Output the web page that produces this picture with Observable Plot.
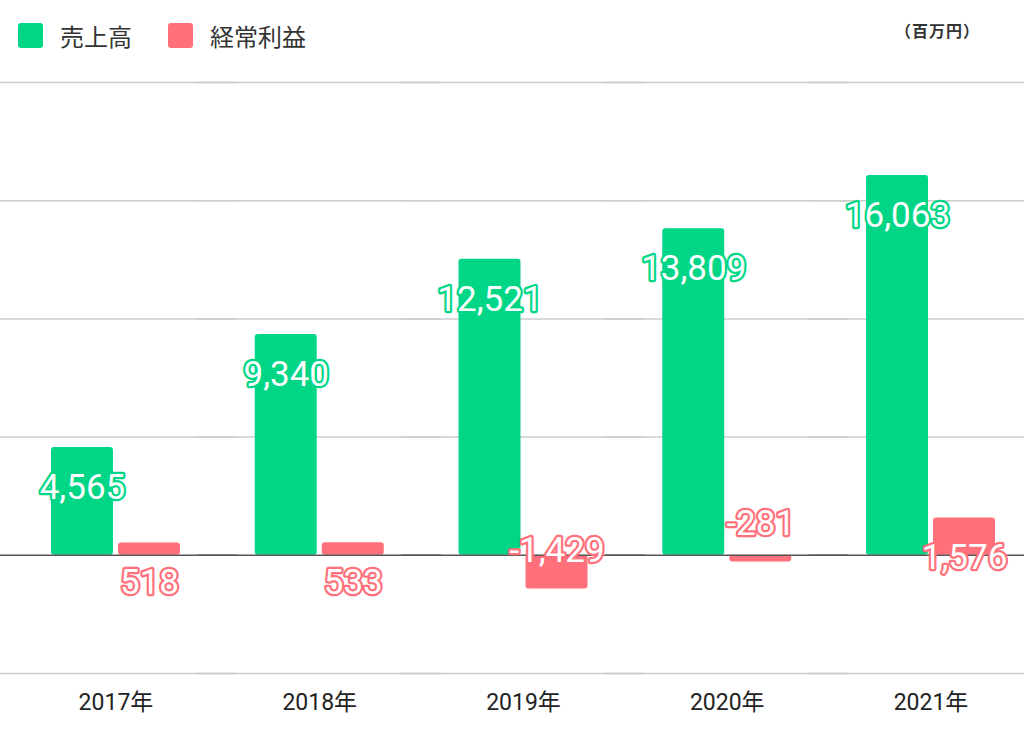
<!DOCTYPE html>
<html>
<head>
<meta charset="utf-8">
<script src="https://cdn.jsdelivr.net/npm/d3@7"></script>
<script src="https://cdn.jsdelivr.net/npm/@observablehq/plot@0.6"></script>
<style>
  html, body { margin: 0; padding: 0; background: #fff; }
  #wrap { position: relative; width: 1024px; height: 730px; overflow: hidden; }
  #legend { position: absolute; left: 18px; top: 23px; display: flex; align-items: center;
    font-family: "Noto Sans CJK JP", sans-serif; font-size: 24px; color: #333; }
  .sw { width: 25px; height: 25px; border-radius: 3px; display: inline-block; }
  .lab { margin-left: 17px; margin-right: 36px; line-height: 25px; }
  #unit { position: absolute; left: 895px; top: 18px; font-family: "Noto Sans CJK JP", sans-serif;
    font-size: 16px; font-weight: bold; color: #333; letter-spacing: 1px; }
  #chart { position: absolute; left: 0; top: 0; }
</style>
</head>
<body>
<div id="wrap">
  <div id="chart"></div>
  <div id="legend"></div>
  <div id="unit">（百万円）</div>
</div>
<script>
const years = ["2017", "2018", "2019", "2020", "2021"];
const seriesNames = ["売上高", "経常利益"];
const seriesColors = ["#00D686", "#FF707A"];
const sales = [4565, 9340, 12521, 13809, 16063];
const profit = [518, 533, -1429, -281, 1576];
const gridTicks = [-5000, 5000, 10000, 15000, 20000];

const data = [];
years.forEach((y, i) => {
  data.push({year: y, series: seriesNames[0], value: sales[i]});
  data.push({year: y, series: seriesNames[1], value: profit[i]});
});

const fmt = v => v.toLocaleString("en-US");

const labelStyle = {
  x: "series", y: "value", text: d => fmt(d.value),
  fill: "white", stroke: "series", strokeWidth: 4.5, paintOrder: "stroke",
  fontSize: 35, fontFamily: "Roboto, sans-serif", textAnchor: "middle", lineAnchor: "middle"
};

const chart = Plot.plot({
  width: 1024,
  height: 730,
  marginTop: 82,
  marginBottom: 57,
  marginLeft: 13.6,
  marginRight: -8.4,
  style: {fontSize: "23px", fontFamily: "Roboto, 'Noto Sans CJK JP', sans-serif", color: "#222", background: "transparent"},
  facet: {data, x: "year"},
  fx: {domain: years, padding: 0, round: false, axis: "bottom", label: null, tickSize: 0, tickPadding: 20, tickFormat: d => d + "年"},
  x: {domain: seriesNames, paddingInner: 0.075, paddingOuter: 0.558, round: false, axis: null},
  y: {domain: [-5000, 20000], axis: null},
  color: {domain: seriesNames, range: seriesColors},
  marks: [
    Plot.ruleY(gridTicks, {stroke: "#cccccc", strokeWidth: 1.5, insetLeft: -20, insetRight: -20}),
    Plot.barY(data, {x: "series", y: "value", fill: "series", rx: 3}),
    Plot.ruleY([0], {stroke: "#555", strokeWidth: 1.5, insetLeft: -20, insetRight: -20}),
    Plot.text(data, {filter: d => d.value >= 0, dy: 40, ...labelStyle}),
    Plot.text(data, {filter: d => d.value < 0, dy: -38, ...labelStyle})
  ]
});
document.getElementById("chart").appendChild(chart);

const legend = document.getElementById("legend");
seriesNames.forEach((s, i) => {
  const sw = document.createElement("span");
  sw.className = "sw";
  sw.style.background = seriesColors[i];
  const lab = document.createElement("span");
  lab.className = "lab";
  lab.textContent = s;
  legend.appendChild(sw);
  legend.appendChild(lab);
});
</script>
</body>
</html>
